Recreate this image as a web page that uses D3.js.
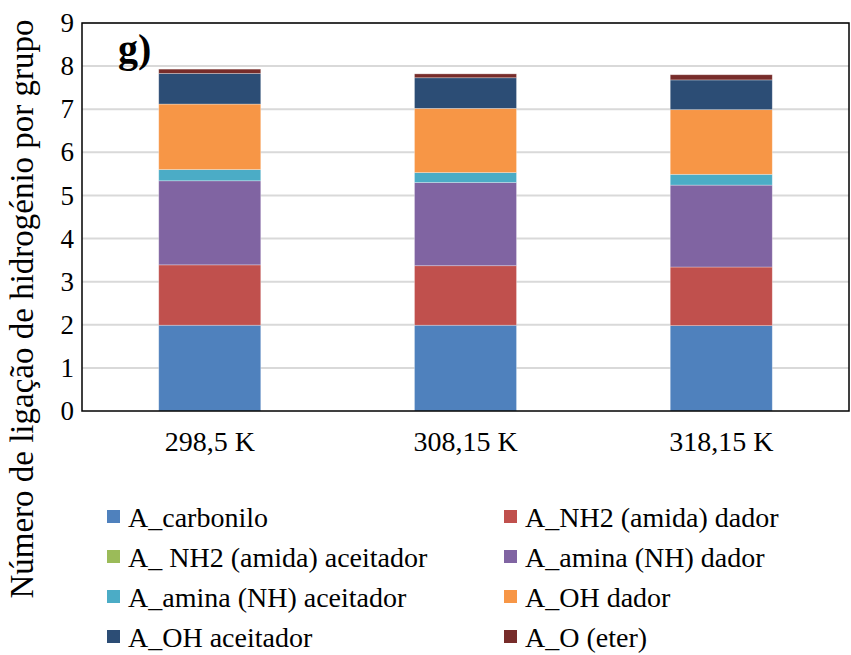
<!DOCTYPE html>
<html><head><meta charset="utf-8">
<script src="https://cdn.jsdelivr.net/npm/d3@7"></script>
</head><body style="margin:0">
<svg id="c" width="851" height="655"></svg>
<script>
const categories = ["298,5 K", "308,15 K", "318,15 K"];
const seriesNames = ["A_carbonilo", "A_NH2 (amida) dador", "A_ NH2 (amida) aceitador", "A_amina (NH) dador", "A_amina (NH) aceitador", "A_OH dador", "A_OH aceitador", "A_O (eter)"];
const carbonilo = [1.99, 1.99, 1.98];
const nh2Dador = [1.40, 1.38, 1.36];
const nh2Aceitador = [0, 0, 0];
const aminaDador = [1.95, 1.93, 1.90];
const aminaAceitador = [0.26, 0.23, 0.25];
const ohDador = [1.52, 1.49, 1.50];
const ohAceitador = [0.71, 0.71, 0.69];
const oEter = [0.10, 0.09, 0.12];
const yTicks = [0, 1, 2, 3, 4, 5, 6, 7, 8, 9];
const colors = ["#4F81BD", "#C0504D", "#9BBB59", "#8064A2", "#4BACC6", "#F79646", "#2C4D75", "#772C2A"];

const seriesValues = [carbonilo, nh2Dador, nh2Aceitador, aminaDador, aminaAceitador, ohDador, ohAceitador, oEter];
const rows = categories.map((c, i) => {
  const r = {cat: c};
  seriesNames.forEach((s, j) => r[s] = seriesValues[j][i]);
  return r;
});
const stack = d3.stack().keys(seriesNames)(rows);

const font = "Liberation Serif";
const svg = d3.select("#c").style("font-family", font);
const L = 82, R = 849, T = 23, B = 411;
const x = d3.scaleBand().domain(categories).range([L, R]).paddingInner(0.601).paddingOuter(0.3);
const y = d3.scaleLinear().domain([0, 9]).range([B, T]);

// gridlines
svg.append("g").selectAll("line").data(yTicks.slice(1)).join("line")
  .attr("x1", L).attr("x2", R).attr("y1", d => y(d)).attr("y2", d => y(d))
  .attr("stroke", "#d9d9d9").attr("stroke-width", 2);

// bars
svg.append("g").selectAll("g").data(stack).join("g")
  .attr("fill", (d, i) => colors[i])
  .selectAll("rect").data(d => d).join("rect")
  .attr("x", d => x(d.data.cat))
  .attr("width", x.bandwidth())
  .attr("y", d => y(d[1]))
  .attr("height", d => Math.max(0, y(d[0]) - y(d[1])))
  .attr("stroke", "#ffffff").attr("stroke-opacity", 0.4).attr("stroke-width", 0.75);

// frame
svg.append("rect").attr("x", L).attr("y", T).attr("width", R - L).attr("height", B - T)
  .attr("fill", "none").attr("stroke", "#000").attr("stroke-width", 1.5);

// y axis
const yAxis = svg.append("g").attr("transform", `translate(${L},0)`)
  .call(d3.axisLeft(y).tickValues(yTicks).tickSize(0).tickPadding(8));
yAxis.select(".domain").remove();
yAxis.attr("font-family", font).attr("font-size", 27);
yAxis.selectAll("text").style("font-family", font).style("font-size", "27px").attr("fill", "#000");

// x axis
const xAxis = svg.append("g").attr("transform", `translate(0,${B})`)
  .call(d3.axisBottom(x).tickSize(0).tickPadding(20));
xAxis.select(".domain").remove();
xAxis.attr("font-family", font).attr("font-size", 28);
xAxis.selectAll("text").style("font-family", font).style("font-size", "28px").attr("fill", "#000");

// y title
svg.append("text").attr("transform", `translate(33,309) rotate(-90)`)
  .attr("text-anchor", "middle").style("font-family", font).style("font-size", "33px")
  .text("Número de ligação de hidrogénio por grupo");

// panel label
svg.append("text").attr("x", 118).attr("y", 62).style("font-family", font)
  .style("font-size", "40px").style("font-weight", "bold").text("g)");

// legend
const lg = svg.append("g");
const items = lg.selectAll("g").data(seriesNames).join("g")
  .attr("transform", (d, i) => `translate(${i % 2 === 0 ? 107 : 504},${517 + Math.floor(i / 2) * 40})`);
items.append("rect").attr("x", 0).attr("y", -7).attr("width", 13).attr("height", 13)
  .attr("fill", (d, i) => colors[i]);
items.append("text").attr("x", 21).attr("y", 0).attr("dy", "0.35em")
  .style("font-family", font).style("font-size", "28px").text(d => d);
</script>
</body></html>
